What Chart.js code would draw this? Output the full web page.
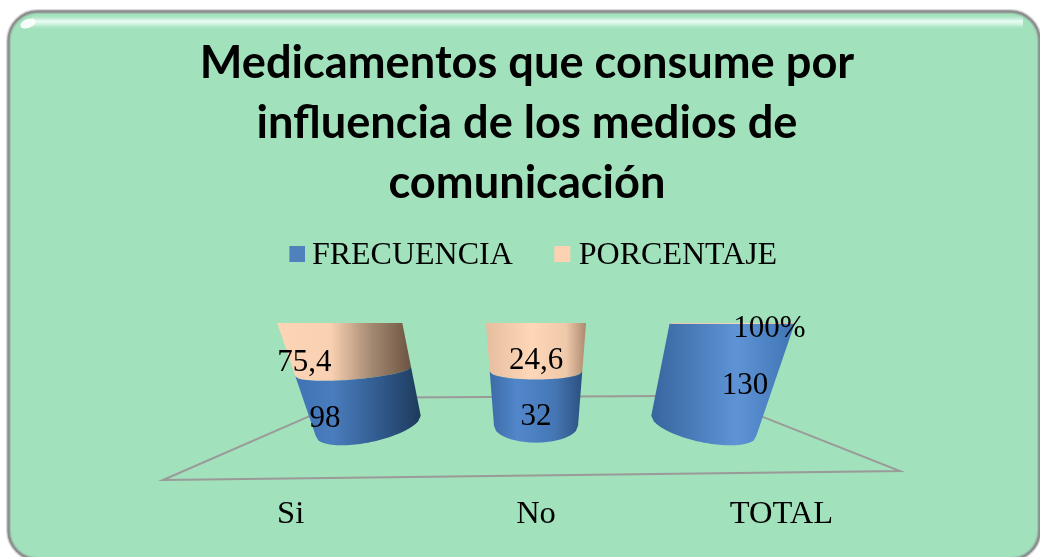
<!DOCTYPE html>
<html><head><meta charset="utf-8">
<style>html,body{margin:0;padding:0;background:#fff}canvas{display:block}</style>
<script src="https://cdn.jsdelivr.net/npm/chart.js@4"></script>
</head><body><canvas id="c" width="1040" height="557"></canvas>
<script>
const categories = ["Si", "No", "TOTAL"];
const frecuencia = [98, 32, 130];
const porcentaje = [75.4, 24.6, 1];
const frecuenciaLabels = ["98", "32", "130"];
const porcentajeLabels = ["75,4", "24,6", "100%"];
const titleLines = ["Medicamentos que consume por", "influencia de los medios de", "comunicación"];

function share(a, b) { return a.map((v, i) => v / (v + b[i]) * 100); }
function swatch(color, dx) {
  const s = document.createElement('canvas'); s.width = 20; s.height = 20;
  const g = s.getContext('2d'); g.fillStyle = color; g.fillRect(2 + dx, 0, 16, 16); return s;
}
const swatches = [swatch('#4f81bd', 2), swatch('#fcd2b3', 0)];

// horizontal shading per category, per series
const shades = [
  [[[0,'#3f73b4'],[.3,'#4a7dbd'],[.62,'#345f94'],[1,'#1d3a5c']], [[0,'#fcd5b6'],[.4,'#f9d1b2'],[.7,'#a58a72'],[1,'#6c5442']]],
  [[[0,'#3d6ba6'],[.3,'#5287cb'],[.7,'#4577b5'],[1,'#2c5181']], [[0,'#e6bd9f'],[.45,'#fdd7b8'],[.8,'#f0c8aa'],[1,'#ac8a70']]],
  [[[0,'#37659e'],[.6,'#5e94d6'],[1,'#3f74b4']], [[0,'#e6c3a8'],[.6,'#fdd7b8'],[1,'#d8b498']]]
];
const labelDy = [[18, 16, 7], [15, 13, 5]];
const labelDx = [[3, 0, -11], [-3, 0, -2]];

function roundRectPath(ctx, x, y, w, h, r) {
  ctx.beginPath(); ctx.moveTo(x + r, y); ctx.arcTo(x + w, y, x + w, y + h, r);
  ctx.arcTo(x + w, y + h, x, y + h, r); ctx.arcTo(x, y + h, x, y, r); ctx.arcTo(x, y, x + w, y, r); ctx.closePath();
}

const panel = {
  id: 'panel',
  beforeDraw(chart) {
    const ctx = chart.ctx; ctx.save();
    roundRectPath(ctx, 8.5, 11.5, 1031, 548, 29);
    ctx.fillStyle = '#a1e1bc'; ctx.fill();
    ctx.clip();
    // glossy top streak
    const g = ctx.createLinearGradient(0, 14, 0, 30);
    g.addColorStop(0, 'rgba(161,225,188,0)'); g.addColorStop(.45, 'rgba(240,255,250,.95)');
    g.addColorStop(.65, 'rgba(225,250,238,.7)'); g.addColorStop(1, 'rgba(161,225,188,0)');
    ctx.fillStyle = g; ctx.fillRect(32, 14, 991, 16);
    ctx.fillStyle = 'rgba(255,255,255,.9)';
    ctx.beginPath(); ctx.ellipse(28, 23.5, 8, 4.5, -0.35, 0, Math.PI * 2); ctx.fill();
    ctx.restore();
    ctx.save();
    roundRectPath(ctx, 8.5, 11.5, 1031, 548, 29);
    ctx.lineWidth = 5; ctx.strokeStyle = 'rgba(140,143,142,.35)'; ctx.stroke();
    ctx.lineWidth = 2.4; ctx.strokeStyle = '#8c8f8e'; ctx.stroke();
    ctx.restore();
  }
};

const cyl = {
  id: 'cyl',
  beforeDatasetsDraw(chart) {
    const ctx = chart.ctx, xs = chart.scales.x, ys = chart.scales.y;
    const vx = (xs.left + xs.right) / 2;
    const step = (xs.right - xs.left) / categories.length;
    const y0 = ys.getPixelForValue(0), y1 = ys.getPixelForValue(100);
    ctx.save();
    // floor
    ctx.strokeStyle = '#9a9a98'; ctx.lineWidth = 2;
    ctx.beginPath();
    ctx.moveTo(xs.left - 5, xs.top);
    ctx.lineTo(xs.right - 4, xs.top - 9);
    ctx.lineTo(vx + 0.47 * (xs.right - vx), y0 - 30);
    ctx.lineTo(vx - 0.5 * (vx - xs.left), y0 - 28);
    ctx.closePath(); ctx.stroke();

    const frame = (el, px) => {
      const d = (el.x - vx) / step;
      let t = (y0 - px) / (y0 - y1);
      const tp = Math.pow(Math.max(t, 0), 1.12);
      const c = vx + (el.x - vx) * (0.684 + 0.116 * tp);
      const w = el.width * (0.571 + 0.109 * tp) * (1 + 0.25 * d * d);
      const yb = y0 - tp * (y0 - y1);
      const dip = 17 * (1 - tp);
      const tilt = d * 10 * (1 - tp);
      return { c, w, yb, dip, tilt, d };
    };
    const curve = (f, reverse, first) => {
      const n = 40;
      for (let i = 0; i <= n; i++) {
        const k = reverse ? n - i : i;
        const u = -1 + 2 * k / n;
        const x = f.c + u * f.w / 2;
        const y = f.yb + u * f.tilt + f.dip * Math.sqrt(Math.max(0, 1 - u * u));
        if (i === 0 && first) ctx.moveTo(x, y); else ctx.lineTo(x, y);
      }
    };
    // upper series first so the lower one sits on top of its rim
    for (let ds = chart.data.datasets.length - 1; ds >= 0; ds--) {
      const meta = chart.getDatasetMeta(ds);
      meta.data.forEach((el, i) => {
        const ft = frame(el, el.y), fb = frame(el, el.base);
        const l = Math.min(ft.c - ft.w / 2, fb.c - fb.w / 2), r = Math.max(ft.c + ft.w / 2, fb.c + fb.w / 2);
        const g = ctx.createLinearGradient(l, 0, r, 0);
        shades[i][ds].forEach(s => g.addColorStop(s[0], s[1]));
        ctx.beginPath();
        curve(ft, false, true);
        curve(fb, true, false);
        ctx.closePath();
        ctx.fillStyle = g; ctx.fill();
      });
    }
    // data labels
    ctx.fillStyle = '#000'; ctx.font = '31px "Liberation Serif"';
    ctx.textAlign = 'center'; ctx.textBaseline = 'middle';
    [frecuenciaLabels, porcentajeLabels].forEach((labels, ds) => {
      chart.getDatasetMeta(ds).data.forEach((el, i) => {
        const ym = (el.y + el.base) / 2;
        const f = frame(el, ym);
        ctx.fillText(labels[i], f.c + (el.x - vx) * 0.16 + labelDx[ds][i], f.yb + labelDy[ds][i]);
      });
    });
    ctx.restore();
    return false;
  }
};

new Chart(document.getElementById('c'), {
  type: 'bar',
  data: {
    labels: categories,
    datasets: [
      { label: 'FRECUENCIA', data: share(frecuencia, porcentaje), backgroundColor: '#4f81bd', stack: 's' },
      { label: 'PORCENTAJE', data: share(porcentaje, frecuencia), backgroundColor: '#fcd2b3', stack: 's' }
    ]
  },
  plugins: [panel, cyl],
  options: {
    responsive: false, animation: false, devicePixelRatio: 1,
    layout: { padding: { top: 33, left: 150, right: 136, bottom: 16 } },
    datasets: { bar: { barPercentage: 0.6, categoryPercentage: 1 } },
    plugins: {
      tooltip: { enabled: false },
      title: { display: true, text: titleLines, color: '#000', align: 'center',
        font: { family: 'Lato', weight: 'bold', size: 45.2, lineHeight: 60 / 45.2 }, padding: { top: 0, bottom: -22 }, fullSize: true },
      legend: { display: true, position: 'top', fullSize: false,
        labels: { color: '#000', font: { family: '"Liberation Serif"', size: 32 }, padding: 49, usePointStyle: true, boxWidth: 1, boxHeight: 16,
          generateLabels(chart) {
            return Chart.defaults.plugins.legend.labels.generateLabels(chart).map((it, i) => { it.pointStyle = swatches[i]; return it; });
          } } }
    },
    scales: {
      x: { stacked: true, grid: { display: false }, border: { display: false },
        ticks: { color: '#000', font: { family: '"Liberation Serif"', size: 32.5 }, padding: 7, maxRotation: 0 } },
      y: { stacked: true, min: -53, max: 140, grid: { display: false }, border: { display: false },
        ticks: { display: false }, afterFit(s) { s.width = 18; } }
    }
  }
});
</script></body></html>
